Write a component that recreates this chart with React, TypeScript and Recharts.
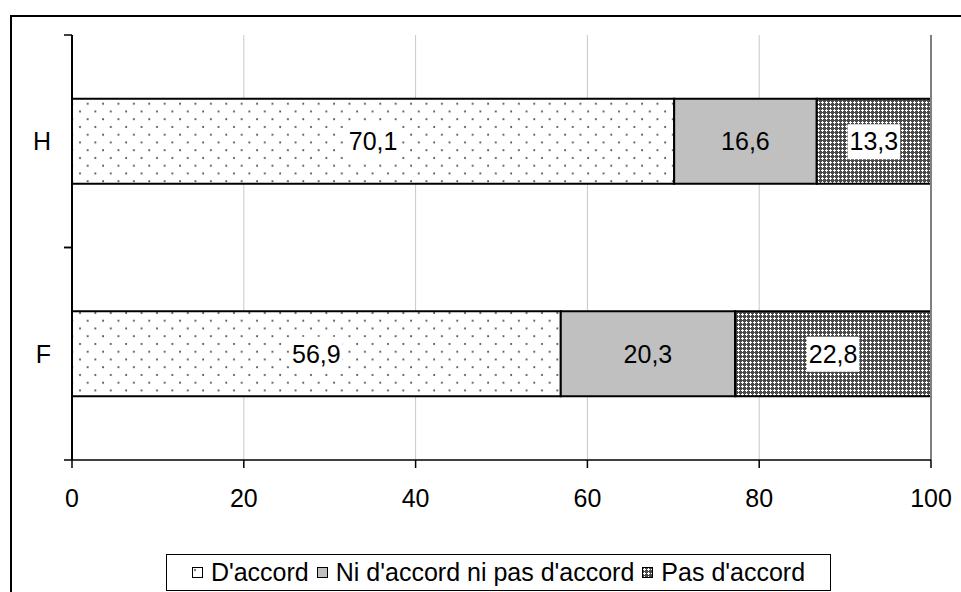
import React from "react";
import { BarChart, Bar, XAxis, YAxis, CartesianGrid, LabelList, ReferenceLine } from "recharts";

const categories = ["H", "F"];
const accord = [70.1, 56.9];
const neutre = [16.6, 20.3];
const pasAccord = [13.3, 22.8];
const xTicks = [0, 20, 40, 60, 80, 100];

const seriesNames = ["D'accord", "Ni d'accord ni pas d'accord", "Pas d'accord"];

const data = categories.map((c, i) => ({
  name: c,
  accord: accord[i],
  neutre: neutre[i],
  pas: pasAccord[i],
}));

const W = 961;
const H = 592;
const M = { top: 35, right: 30, left: 10, bottom: 72 };
const Y_W = 62;
const X_H = 60;
const plotH = H - M.top - M.bottom - X_H;
const band = plotH / categories.length;

const FONT = '"Liberation Sans", Arial, sans-serif';
const fmt = (v: number) => v.toFixed(1).replace(".", ",");

// y tick: label at category centre, tick marks at the band edges (Excel style)
function YTick(props: any) {
  const { x, y, payload } = props;
  const ax = x + 8 + 13;
  return (
    <g>
      <line x1={ax - 8} x2={ax} y1={y - band / 2} y2={y - band / 2} stroke="#000" strokeWidth={1.5} />
      <line x1={ax - 8} x2={ax} y1={y + band / 2} y2={y + band / 2} stroke="#000" strokeWidth={1.5} />
      <text x={x} y={y} dy="0.36em" textAnchor="end" fontSize={25} fill="#000" fontFamily={FONT}>
        {payload.value}
      </text>
    </g>
  );
}

const makeLabel = (boxed: boolean) => (props: any) => {
  const { x, y, width, height, value } = props;
  const cx = Number(x) + Number(width) / 2;
  const cy = Number(y) + Number(height) / 2;
  const s = fmt(Number(value));
  const tw = (s.length - 1) * 0.556 * 25 + 0.278 * 25;
  return (
    <g>
      {boxed && <rect x={cx - tw / 2 - 2} y={cy - 17} width={tw + 4} height={35} fill="#fff" />}
      <text x={cx} y={cy} dy="0.36em" textAnchor="middle" fontSize={25} fill="#000" fontFamily={FONT}>
        {s}
      </text>
    </g>
  );
};

function Patterns() {
  return (
    <defs>
      <pattern id="dots" patternUnits="userSpaceOnUse" width={15.4} height={15.5}>
        <rect width={15.4} height={15.5} fill="#fff" />
        <circle cx={3} cy={3} r={1} fill="#444" />
        <circle cx={10.7} cy={10.75} r={1} fill="#444" />
      </pattern>
      <pattern id="cross" patternUnits="userSpaceOnUse" width={4} height={4}>
        <rect width={4} height={4} fill="#4a4a4a" shapeRendering="crispEdges" />
        <rect x={1} y={2} width={3} height={1} fill="#fff" shapeRendering="crispEdges" />
        <rect x={2} y={1} width={1} height={3} fill="#fff" shapeRendering="crispEdges" />
      </pattern>
    </defs>
  );
}

function Swatch({ fill }: { fill: string }) {
  return (
    <svg width={12} height={12} style={{ marginRight: 7 }}>
      <rect x={0.5} y={0.5} width={10} height={10} fill={fill} stroke="#000" strokeWidth={1} />
    </svg>
  );
}

const fills = ["url(#dots)", "#c0c0c0", "url(#cross)"];

export default function App() {
  return (
    <div
      style={{
        position: "absolute",
        left: 0,
        top: 0,
        width: W,
        height: H,
        overflow: "hidden",
        background: "#fff",
        fontFamily: FONT,
      }}
    >
      <div
        style={{
          position: "absolute",
          left: 10,
          top: 15,
          width: 1200,
          height: 1200,
          border: "2px solid #000",
          boxSizing: "border-box",
        }}
      />
      <div style={{ position: "absolute", left: 0, top: 0 }}>
        <BarChart width={W} height={H} data={data} layout="vertical" margin={M} barCategoryGap="30%">
          <Patterns />
          <CartesianGrid horizontal={false} stroke="#c8c8c8" strokeWidth={1} />
          <XAxis
            type="number"
            domain={[0, 100]}
            ticks={xTicks}
            interval={0}
            height={X_H}
            tickSize={8}
            tickMargin={21}
            axisLine={{ stroke: "#000", strokeWidth: 1.5 }}
            tickLine={{ stroke: "#000", strokeWidth: 1.5 }}
            tick={{ fill: "#000", fontSize: 25, fontFamily: FONT }}
          />
          <XAxis
            xAxisId="top"
            orientation="top"
            type="number"
            domain={[0, 100]}
            height={0}
            tick={false}
            tickLine={false}
            axisLine={{ stroke: "#808080", strokeWidth: 2 }}
          />
          <YAxis
            type="category"
            dataKey="name"
            width={Y_W}
            tickSize={8}
            tickMargin={13}
            tickLine={false}
            axisLine={{ stroke: "#000", strokeWidth: 2 }}
            tick={<YTick />}
          />
          <ReferenceLine x={100} stroke="#808080" strokeWidth={2} />
          <Bar dataKey="accord" name={seriesNames[0]} stackId="a" fill={fills[0]} stroke="#000" strokeWidth={2} isAnimationActive={false}>
            <LabelList dataKey="accord" content={makeLabel(true)} />
          </Bar>
          <Bar dataKey="neutre" name={seriesNames[1]} stackId="a" fill={fills[1]} stroke="#000" strokeWidth={2} isAnimationActive={false}>
            <LabelList dataKey="neutre" content={makeLabel(false)} />
          </Bar>
          <Bar dataKey="pas" name={seriesNames[2]} stackId="a" fill={fills[2]} stroke="#000" strokeWidth={2} isAnimationActive={false}>
            <LabelList dataKey="pas" content={makeLabel(true)} />
          </Bar>
        </BarChart>
      </div>
      <div
        style={{
          position: "absolute",
          left: 166,
          top: 554,
          width: 665,
          height: 37,
          border: "1px solid #000",
          boxSizing: "border-box",
          display: "flex",
          alignItems: "center",
          justifyContent: "center",
          fontSize: 25,
          background: "#fff",
          whiteSpace: "nowrap",
        }}
      >
        {seriesNames.map((n, i) => (
          <span key={n} style={{ display: "flex", alignItems: "center", marginRight: i < 2 ? 8 : 0 }}>
            <Swatch fill={fills[i]} />
            {n}
          </span>
        ))}
      </div>
    </div>
  );
}
